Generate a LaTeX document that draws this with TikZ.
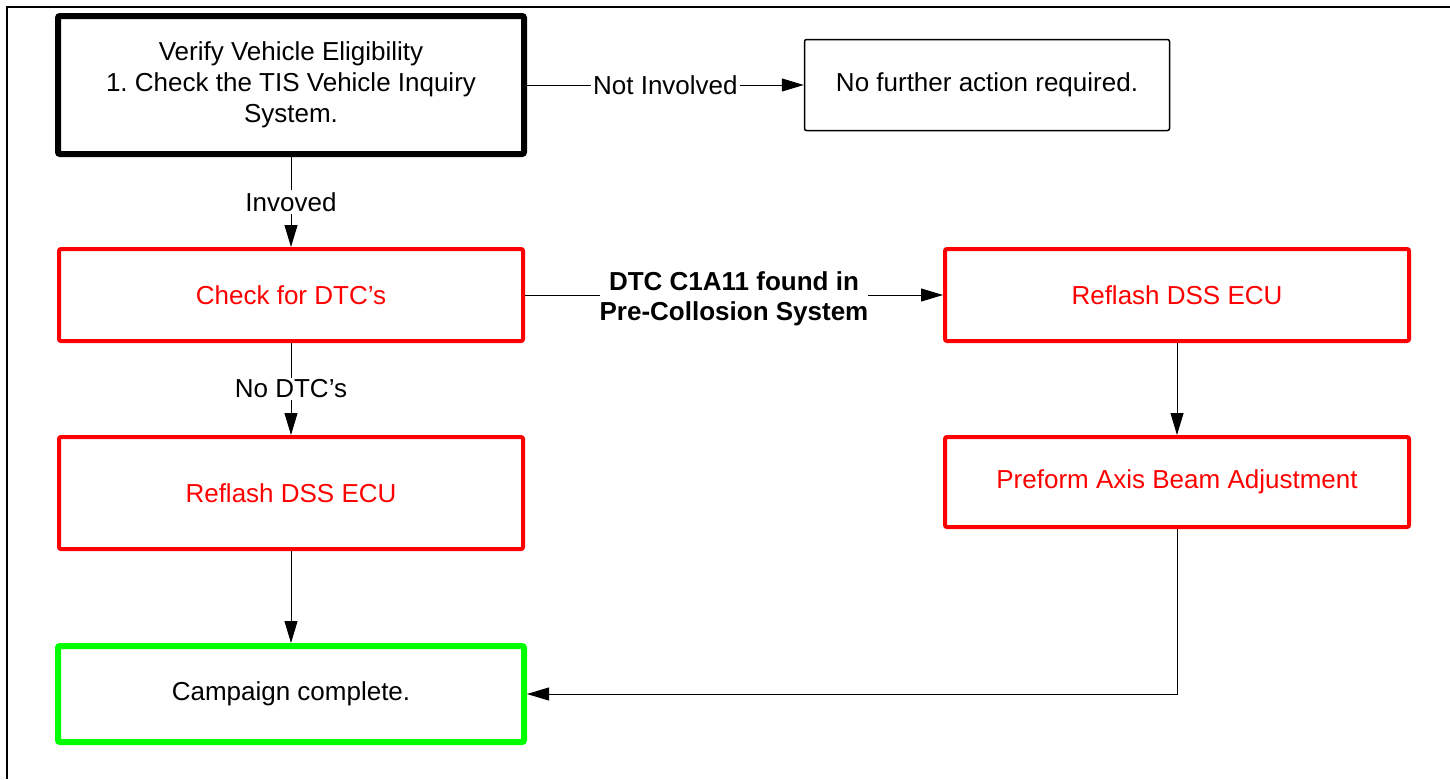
\documentclass[tikz,border=0pt]{standalone}
\usepackage{fontspec}
\setmainfont{Liberation Sans}
\usetikzlibrary{arrows.meta}
\definecolor{boxred}{RGB}{255,0,0}
\definecolor{boxgreen}{RGB}{0,255,0}
\tikzset{
  every node/.style={font=\frenchspacing\fontsize{26}{31}\selectfont},
  box/.style={draw, rounded corners=2pt, align=center, inner sep=0pt, minimum width=464pt},
  startbox/.style={box, line width=6pt, minimum width=466pt},
  plainbox/.style={box, line width=1.5pt, minimum width=365pt, minimum height=91pt},
  redbox/.style={box, draw=boxred, text=boxred, line width=4pt},
  greenbox/.style={box, draw=boxgreen, line width=6pt, minimum width=466pt},
  conn/.style={line width=1pt, -{Triangle[length=22pt,width=13pt]}},
  lbl/.style={fill=white, inner sep=2pt, align=center}
}
\begin{document}
\begin{tikzpicture}[x=1pt,y=-1pt]
\useasboundingbox (0,0) rectangle (1450,779);
\draw[line width=2pt] (7,779) -- (7,7) -- (1450,7);

\node[startbox, minimum height=138pt] (A) at (291,85) {Verify Vehicle Eligibility\\1. Check the TIS Vehicle Inquiry\\System.};
\node[plainbox] (B) at (987,85) {No further action required.};
\node[redbox, minimum height=92pt] (C) at (291,295) {Check for DTC’s};
\node[redbox, minimum height=92pt] (D) at (1177,295) {Reflash DSS ECU};
\node[redbox, minimum height=112pt] (E) at (291,493) {Reflash DSS ECU};
\node[redbox, minimum height=90pt] (F) at (1177,482) {Preform Axis Beam Adjustment};
\node[greenbox, minimum height=96pt] (G) at (291,694) {Campaign complete.};

\draw[conn] (A.east) -- node[lbl] (l1) {Not Involved} (B.west);
\draw[conn] (A.south) -- node[lbl] (l2) {Invoved} (C.north);
\draw[conn] (C.east) -- node[lbl, inner sep=0pt, font=\frenchspacing\fontsize{26}{30}\selectfont\bfseries, yshift=-4pt] (l3) {DTC C1A11 found in\\Pre-Collosion System} (D.west);
\draw[conn] (C.south) -- node[lbl] (l4) {No DTC’s} (E.north);
\draw[conn] (E.south) -- (G.north);
\draw[conn] (D.south) -- (F.south |- F.north);
\draw[conn] (F.south) |- (G.east);
\end{tikzpicture}
\end{document}
